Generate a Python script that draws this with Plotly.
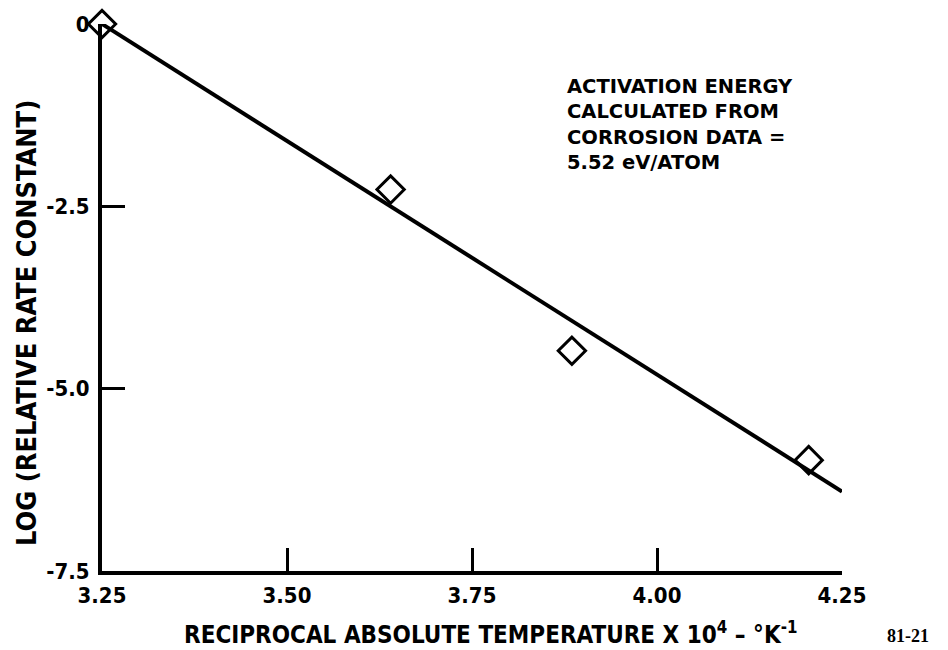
import plotly.graph_objects as go

# Measured rate constants (log of relative rate) vs reciprocal temperature
recip_temp = [3.25, 3.64, 3.885, 4.205]
log_rate = [0.0, -2.27, -4.48, -5.98]

# Least-squares fit line end points
fit_x = [3.25, 4.25]
fit_y = [0.0, -6.41]

x_ticks = [3.25, 3.50, 3.75, 4.00, 4.25]
x_tick_text = ["3.25", "3.50", "3.75", "4.00", "4.25"]
y_ticks = [0, -2.5, -5.0, -7.5]
y_tick_text = ["0", "-2.5", "-5.0", "-7.5"]

FONT = "DejaVu Sans Condensed"

# plot-area geometry in pixels (used to place free-standing labels)
L, R, T, B = 102, 842, 22, 571
PW, PH = R - L, B - T


def px(xp):
    return (xp - L) / PW


def py(yp):
    return 1 - (yp - T) / PH


def bold(labels):
    return ["<b>%s</b>" % s for s in labels]


fig = go.Figure()
fig.add_trace(go.Scatter(
    x=fit_x, y=fit_y, mode="lines",
    line=dict(color="black", width=4),
    cliponaxis=False, showlegend=False, hoverinfo="skip",
))
fig.add_trace(go.Scatter(
    x=recip_temp, y=log_rate, mode="markers",
    marker=dict(symbol="diamond-open", size=21, color="black",
                line=dict(color="black", width=3)),
    cliponaxis=False, showlegend=False,
))

axis_common = dict(
    showgrid=False, zeroline=False, showline=True,
    linecolor="black", linewidth=4,
    ticks="inside", ticklen=23, tickwidth=3, tickcolor="black",
    tickfont=dict(family=FONT, size=22, color="black"),
    mirror=False,
)

fig.update_xaxes(
    range=[3.25, 4.25], tickvals=x_ticks, ticktext=bold(x_tick_text),
    ticklabelstandoff=2, **axis_common,
)
fig.update_yaxes(
    range=[-7.5, 0], tickvals=y_ticks, ticktext=bold(y_tick_text),
    ticklabelstandoff=4, **axis_common,
)

notes = [
    dict(
        x=px(565), y=py(123),
        text="<b>ACTIVATION ENERGY<br>CALCULATED FROM<br>CORROSION DATA =<br>5.52 eV/ATOM</b>",
        xanchor="left", yanchor="middle", align="left",
        font=dict(family="DejaVu Sans", size=19.5, color="black"),
    ),
    dict(
        x=px(490), y=py(633),
        text="<b>RECIPROCAL ABSOLUTE TEMPERATURE X 10<sup>4</sup> \u2013 \u00b0K<sup>-1</sup></b>",
        xanchor="center", yanchor="middle",
        font=dict(family=FONT, size=24, color="black"),
    ),
    dict(
        x=px(27), y=py(322),
        text="<b>LOG (RELATIVE RATE CONSTANT)</b>", textangle=-90,
        xanchor="center", yanchor="middle",
        font=dict(family=FONT, size=27, color="black"),
    ),
    dict(
        x=px(908), y=py(636),
        text="<b>81-21</b>",
        xanchor="center", yanchor="middle",
        font=dict(family="Liberation Serif", size=18, color="black"),
    ),
]
for n in notes:
    fig.add_annotation(xref="paper", yref="paper", showarrow=False, **n)

fig.update_layout(
    width=948, height=650,
    margin=dict(l=L, r=948 - R, t=T, b=650 - B),
    paper_bgcolor="white", plot_bgcolor="white",
    showlegend=False,
)

fig.write_html("out.html")
